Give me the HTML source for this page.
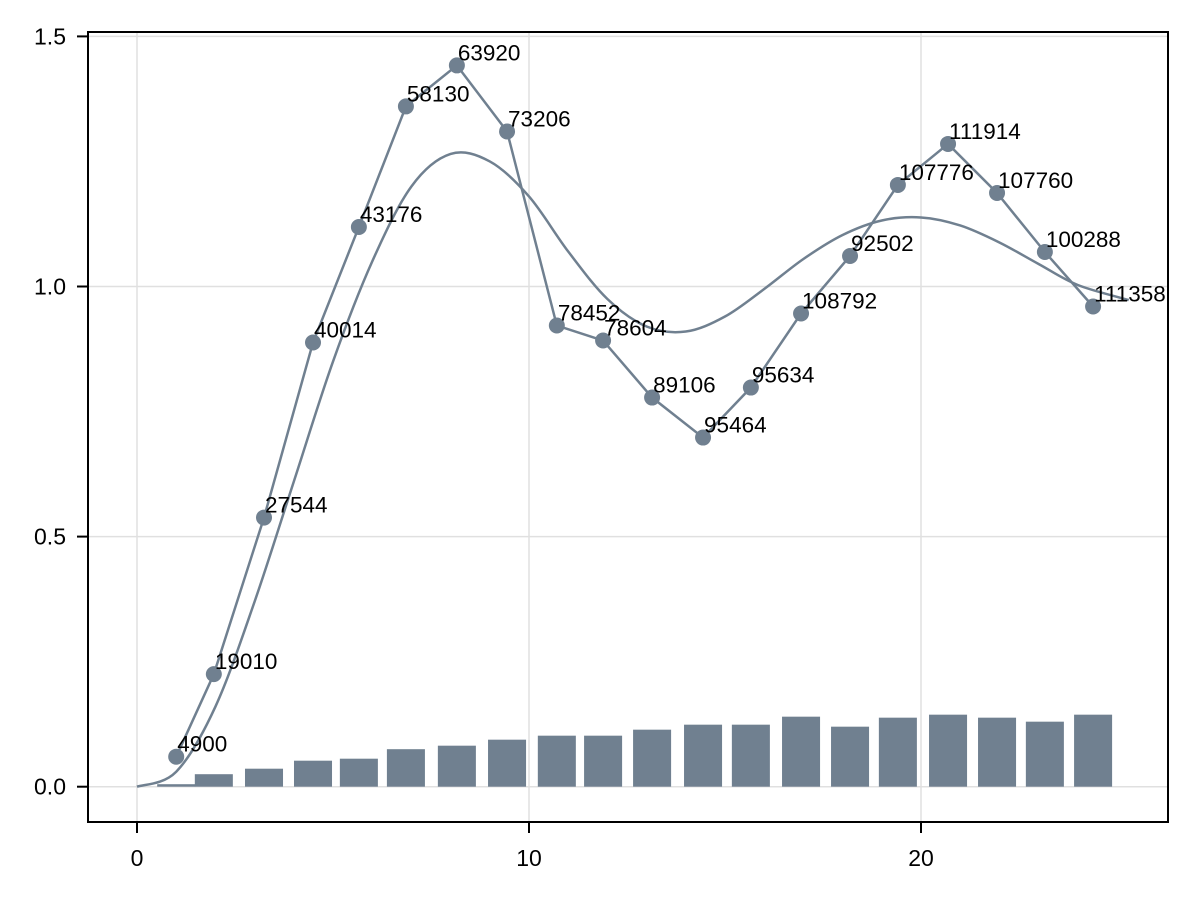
<!DOCTYPE html>
<html><head><meta charset="utf-8"><style>
html,body{margin:0;padding:0;background:#fff;}
svg{display:block;font-family:"Liberation Sans",sans-serif;}
</style></head><body>
<svg id="chart" width="1200" height="900" viewBox="0 0 1200 900" xmlns="http://www.w3.org/2000/svg">
<defs><clipPath id="clip"><rect x="88" y="32" width="1080" height="790"/></clipPath></defs>
<rect x="88" y="32" width="1080" height="790" fill="#fff"/>
<g id="grid"></g>
<g id="bars" clip-path="url(#clip)"></g>
<g id="lines" clip-path="url(#clip)"></g>
<g id="labels" clip-path="url(#clip)"></g>
<rect x="88" y="32" width="1080" height="790" fill="none" stroke="#000" stroke-width="2"/>
<g id="ticks"></g>
</svg>
<script>
const xs = [1.0,1.96,3.24,4.49,5.66,6.86,8.16,9.44,10.71,11.89,13.14,14.44,15.66,16.94,18.19,19.41,20.69,21.94,23.16,24.39];
const ys = [0.06,0.225,0.538,0.888,1.119,1.36,1.442,1.31,0.922,0.892,0.778,0.698,0.798,0.946,1.061,1.203,1.285,1.187,1.069,0.96];
const pointLabels = ["4900","19010","27544","40014","43176","58130","63920","73206","78452","78604","89106","95464","95634","108792","92502","107776","111914","107760","100288","111358"];
const barValues = [0.005,0.025,0.036,0.052,0.056,0.075,0.082,0.094,0.102,0.102,0.114,0.124,0.124,0.14,0.12,0.138,0.144,0.138,0.13,0.144];
const fitX = [0,1,2,3,4,5,6,7,8,9,10,11,12,13,14,15,16,17,18,19,20,21,22,23,24,25.3];
const fitY = [0,0.03,0.16,0.37,0.61,0.85,1.05,1.2,1.265,1.25,1.18,1.07,0.975,0.92,0.91,0.94,0.995,1.055,1.103,1.132,1.138,1.122,1.088,1.045,1.003,0.973];
const xTicks = [0,10,20];
const yTicks = [0.0,0.5,1.0,1.5];
const yTickLabels = ["0.0","0.5","1.0","1.5"];

const NS = "http://www.w3.org/2000/svg";
const X = v => 137 + v*39.2;
const Y = v => 786.7 - v*500.2;
const C = "#708090";
function mk(tag, attrs, parent){const e=document.createElementNS(NS,tag);for(const k in attrs)e.setAttribute(k,attrs[k]);parent.appendChild(e);return e;}
const grid=document.getElementById('grid'), bars=document.getElementById('bars'), lines=document.getElementById('lines'), labels=document.getElementById('labels'), ticks=document.getElementById('ticks');

xTicks.forEach(t=>{
  const g=mk('line',{x1:X(t),x2:X(t),y1:32,y2:822,stroke:'#e0e0e0','stroke-width':1.5},grid);
  
  
  const tk=mk('line',{x1:X(t),x2:X(t),y1:822,y2:833,stroke:'#000','stroke-width':2},ticks);
  
  
  const tx=mk('text',{x:X(t),y:866,'text-anchor':'middle','font-size':23,fill:'#000'},ticks);
  tx.textContent=String(t);
  
  
});
yTicks.forEach((t,i)=>{
  const g=mk('line',{x1:88,x2:1168,y1:Y(t),y2:Y(t),stroke:'#e0e0e0','stroke-width':1.5},grid);
  
  
  const tk=mk('line',{x1:77,x2:88,y1:Y(t),y2:Y(t),stroke:'#000','stroke-width':2},ticks);
  
  
  const tx=mk('text',{x:66,y:Y(t)+8,'text-anchor':'end','font-size':23,fill:'#000'},ticks);
  tx.textContent=yTickLabels[i];
  
  
});
xs.forEach((x,i)=>{
  const w=0.97*39.2;
  const r=mk('rect',{x:X(x)-w/2,y:Y(barValues[i]),width:w,height:Y(0)-Y(barValues[i]),fill:C},bars);
  
  
});
let d='M'+X(fitX[0])+','+Y(fitY[0]);
for(let i=0;i<fitX.length-1;i++){
  const p0=[X(fitX[Math.max(0,i-1)]),Y(fitY[Math.max(0,i-1)])],p1=[X(fitX[i]),Y(fitY[i])],p2=[X(fitX[i+1]),Y(fitY[i+1])],p3=[X(fitX[Math.min(fitX.length-1,i+2)]),Y(fitY[Math.min(fitX.length-1,i+2)])];
  const c1=[p1[0]+(p2[0]-p0[0])/6,p1[1]+(p2[1]-p0[1])/6],c2=[p2[0]-(p3[0]-p1[0])/6,p2[1]-(p3[1]-p1[1])/6];
  d+=' C'+c1+' '+c2+' '+p2;
}
const fit=mk('path',{d:d,fill:'none',stroke:C,'stroke-width':2.5},lines);


const pl=mk('polyline',{points:xs.map((x,i)=>X(x)+','+Y(ys[i])).join(' '),fill:'none',stroke:C,'stroke-width':2.5},lines);


xs.forEach((x,i)=>{
  const c=mk('circle',{cx:X(x),cy:Y(ys[i]),r:8,fill:C},lines);
  
  
  const t=mk('text',{x:X(x)+1,y:Y(ys[i])-5,'font-size':22.5,fill:'#000'},labels);
  t.textContent=pointLabels[i];
  
  
});
</script>
</body></html>
